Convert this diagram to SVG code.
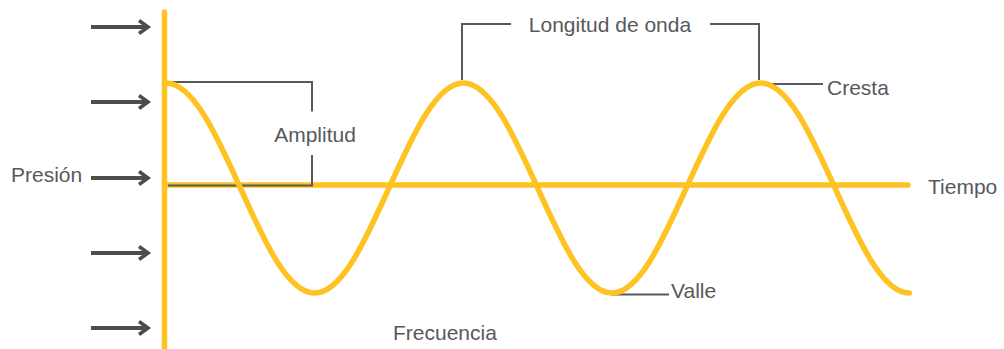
<svg xmlns="http://www.w3.org/2000/svg" width="1004" height="349" viewBox="0 0 1004 349">
<defs>
<style>
.wave{fill:none;stroke:#FEC322;stroke-width:5.5;stroke-linecap:round;stroke-linejoin:round}
.lead{fill:none;stroke:#58595B;stroke-width:2}
.arr{fill:none;stroke:#4D4D4D;stroke-width:4;marker-end:url(#chev)}
.lbl{font-family:"Liberation Sans",Arial,sans-serif;font-size:21px;fill:#58595B}
</style>
<marker id="chev" markerUnits="userSpaceOnUse" markerWidth="16" markerHeight="18" refX="10" refY="8" orient="auto" viewBox="0 0 16 18">
<path d="M1,1.5 L10,8 L1,14.5" fill="none" stroke="#4D4D4D" stroke-width="3.6" stroke-linejoin="miter"/>
</marker>
</defs>
<rect width="1004" height="349" fill="#FFFFFF"/>
<g id="pressure-arrows">
<path class="arr" d="M91,27 H148"/>
<path class="arr" d="M91,102 H148"/>
<path class="arr" d="M91,178 H148"/>
<path class="arr" d="M91,253 H148"/>
<path class="arr" d="M91,328 H148"/>
</g>
<g id="axes">
<path class="wave" d="M164.5,12 V352"/>
<path class="wave" d="M166,185 H908"/>
</g>
<g id="connectors">
<path class="lead" d="M168,82 H312 V111.5 M312,155 V185.5 H168"/>
<path class="lead" d="M462,80 V24 H511 M710,24 H759 V80"/>
<path class="lead" d="M766,84 H823"/>
<path class="lead" d="M611,294.5 H669"/>
</g>
<g id="wave">
<path class="wave" d="M166,83 c26.9,0 50.09,51.21 74.33,105 c24.24,53.79 47.43,105 74.33,105 c26.9,0 50.09,-51.21 74.33,-105 c24.24,-53.79 47.43,-105 74.33,-105 c26.9,0 50.09,51.21 74.33,105 c24.24,53.79 47.43,105 74.33,105 c26.9,0 50.09,-51.21 74.33,-105 c24.24,-53.79 47.43,-105 74.33,-105 c26.9,0 50.09,51.21 74.33,105 c24.24,53.79 47.43,105 74.33,105"/>
</g>
<g id="node-presion"><text class="lbl" x="11" y="182">Presión</text></g>
<g id="node-amplitud"><text class="lbl" x="315" y="141.5" text-anchor="middle">Amplitud</text></g>
<g id="node-longitud"><text class="lbl" x="610" y="32" text-anchor="middle">Longitud de onda</text></g>
<g id="node-cresta"><text class="lbl" x="827" y="95">Cresta</text></g>
<g id="node-tiempo"><text class="lbl" x="928" y="194">Tiempo</text></g>
<g id="node-valle"><text class="lbl" x="671" y="297.5">Valle</text></g>
<g id="node-frecuencia"><text class="lbl" x="393" y="340">Frecuencia</text></g>
</svg>
